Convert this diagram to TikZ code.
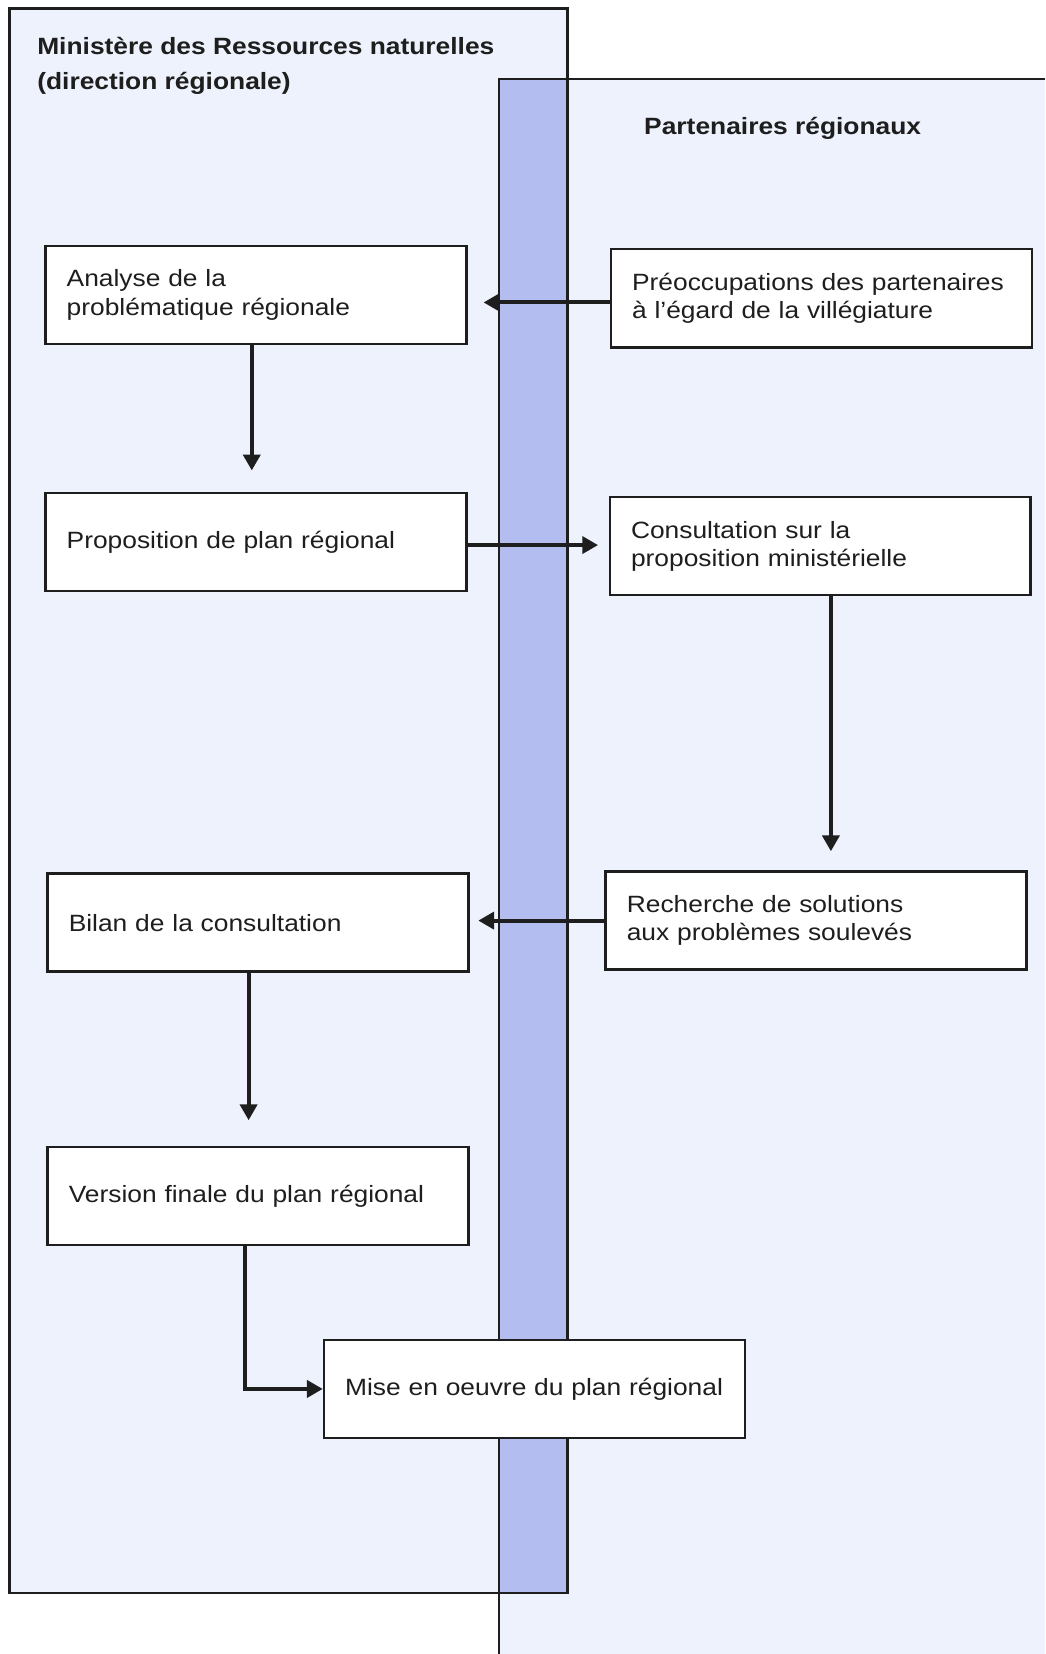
\documentclass[tikz,border=0pt]{standalone}
\usepackage{fontspec}
\setmainfont{Liberation Sans}[FakeStretch=1.12]
\usetikzlibrary{arrows.meta,calc}
\definecolor{panel}{HTML}{EEF2FC}
\definecolor{band}{HTML}{B4BDF0}
\definecolor{ink}{HTML}{1E1E1E}
\tikzset{
  procbox/.style={draw=ink, line width=1.4pt, fill=white, anchor=north west,
    minimum height=1.86cm, inner xsep=0.4cm, inner ysep=0pt, text width=7.18cm,
    align=left, font=\fontsize{12.7}{15.3}\selectfont, text=ink},
  arr/.style={draw=ink, line width=2.2pt, -{Triangle[length=0.3cm,width=0.32cm]}},
  paneltitle/.style={font=\fontsize{12.7}{18.7}\selectfont\bfseries, text=ink, inner sep=0pt, align=left},
}
\begin{document}
\begin{tikzpicture}[x=0.02cm,y=-0.02cm]
\useasboundingbox (0,0) rectangle (991,1568);
% panels
\fill[panel] (9,8) rectangle (538,1510);
\fill[panel] (473,75) rectangle (991,1568);
\fill[band] (473,75) rectangle (538,1510);
\draw[ink, line width=1.4pt] (9,8) rectangle (538,1510);
\draw[ink, line width=1.4pt] (991,75) -- (473,75) -- (473,1568);
% titles
\node[paneltitle, anchor=north west] (mrn) at (35,35) {Ministère des Ressources naturelles\\(direction régionale)};
\node[paneltitle] (pr) at (742,122) {Partenaires régionaux};
% boxes
\node[procbox] (analyse) at (42,232) {Analyse de la\\problématique régionale};
\node[procbox] (preo) at (578,235) {Préoccupations des partenaires\\à l’égard de la villégiature};
\node[procbox] (prop) at (42,466) {Proposition de plan régional};
\node[procbox] (consult) at (577,470) {Consultation sur la\\proposition ministérielle};
\node[procbox] (rech) at (573,825) {Recherche de solutions\\aux problèmes soulevés};
\node[procbox] (bilan) at (44,827) {Bilan de la consultation};
\node[procbox] (version) at (44,1086) {Version finale du plan régional};
\node[procbox] (mise) at (306,1269) {Mise en oeuvre du plan régional};
% arrows
\draw[arr, shorten >=15*0.02cm] ([yshift=-4*0.02cm]preo.west) -- ([yshift=-4*0.02cm]preo.west -| analyse.east);
\draw[arr, shorten >=20*0.02cm] ([xshift=-4*0.02cm]analyse.south) -- ([xshift=-4*0.02cm]analyse.south |- prop.north);
\draw[arr, shorten >=10*0.02cm] ([yshift=-3*0.02cm]prop.east) -- ([yshift=-3*0.02cm]prop.east -| consult.west);
\draw[arr, shorten >=18*0.02cm] ([xshift=10*0.02cm]consult.south) -- ([xshift=10*0.02cm]consult.south |- rech.north);
\draw[arr, shorten >=8*0.02cm] (rech.west) -- (rech.west -| bilan.east);
\draw[arr, shorten >=24*0.02cm] ([xshift=-9*0.02cm]bilan.south) -- ([xshift=-9*0.02cm]bilan.south |- version.north);
\draw[arr] ([xshift=-12*0.02cm]version.south) |- (mise.west);
\end{tikzpicture}
\end{document}
